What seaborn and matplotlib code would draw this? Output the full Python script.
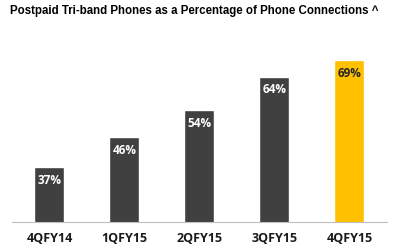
import matplotlib
matplotlib.use("Agg")
import matplotlib.pyplot as plt
import seaborn as sns
import pandas as pd

categories = ["4QFY14", "1QFY15", "2QFY15", "3QFY15", "4QFY15"]
values = [37, 46, 54, 64, 69]
labels = ["37%", "46%", "54%", "64%", "69%"]
bar_colors = ["#404040", "#404040", "#404040", "#404040", "#FFC000"]
label_colors = ["white", "white", "white", "white", "#262626"]

sns.set_style("white")
plt.rcParams['font.family'] = ['Liberation Sans', 'DejaVu Sans']

df = pd.DataFrame({"cat": categories, "val": values})

fig = plt.figure(figsize=(4.02, 2.48), dpi=100)
ax = fig.add_axes([12/402, 26/248, 375/402, 177/248])
sns.barplot(data=df, x="cat", y="val", hue="cat", palette=bar_colors,
            width=0.4, legend=False, ax=ax, saturation=1)
ax.set_ylim(20.5, 73.5)
ax.set_xlim(-0.5, len(categories) - 0.5)

for i, (v, lab, c) in enumerate(zip(values, labels, label_colors)):
    ax.annotate(lab, xy=(i, v), xytext=(0, -9.5), textcoords="offset points",
                ha="center", va="center", color=c, fontsize=8.5,
                fontweight="bold", family=["Open Sans", "DejaVu Sans"])

for s in ["top", "right", "left"]:
    ax.spines[s].set_visible(False)
ax.spines["bottom"].set_color("#BFBFBF")
ax.spines["bottom"].set_linewidth(0.8)
ax.set_yticks([])
ax.set_xlabel("")
ax.set_ylabel("")
ax.set_xticks(range(len(categories)))
ax.set_xticklabels(categories, fontsize=9, fontweight="bold", color="#1a1a1a",
                   family=["Open Sans", "DejaVu Sans"])
ax.tick_params(axis="x", which="major", length=0, pad=7)
ax.set_xticks([i - 0.5 for i in range(len(categories) + 1)], minor=True)
ax.tick_params(axis="x", which="minor", length=4, color="#BFBFBF", width=0.8, direction="out")

fig.text(10/402, 1 - 11/248, "Postpaid Tri-band Phones as a Percentage of Phone Connections ^",
         fontsize=8.3, fontweight="bold", ha="left", va="center", color="#000000")

fig.savefig("out.png", dpi=100)
